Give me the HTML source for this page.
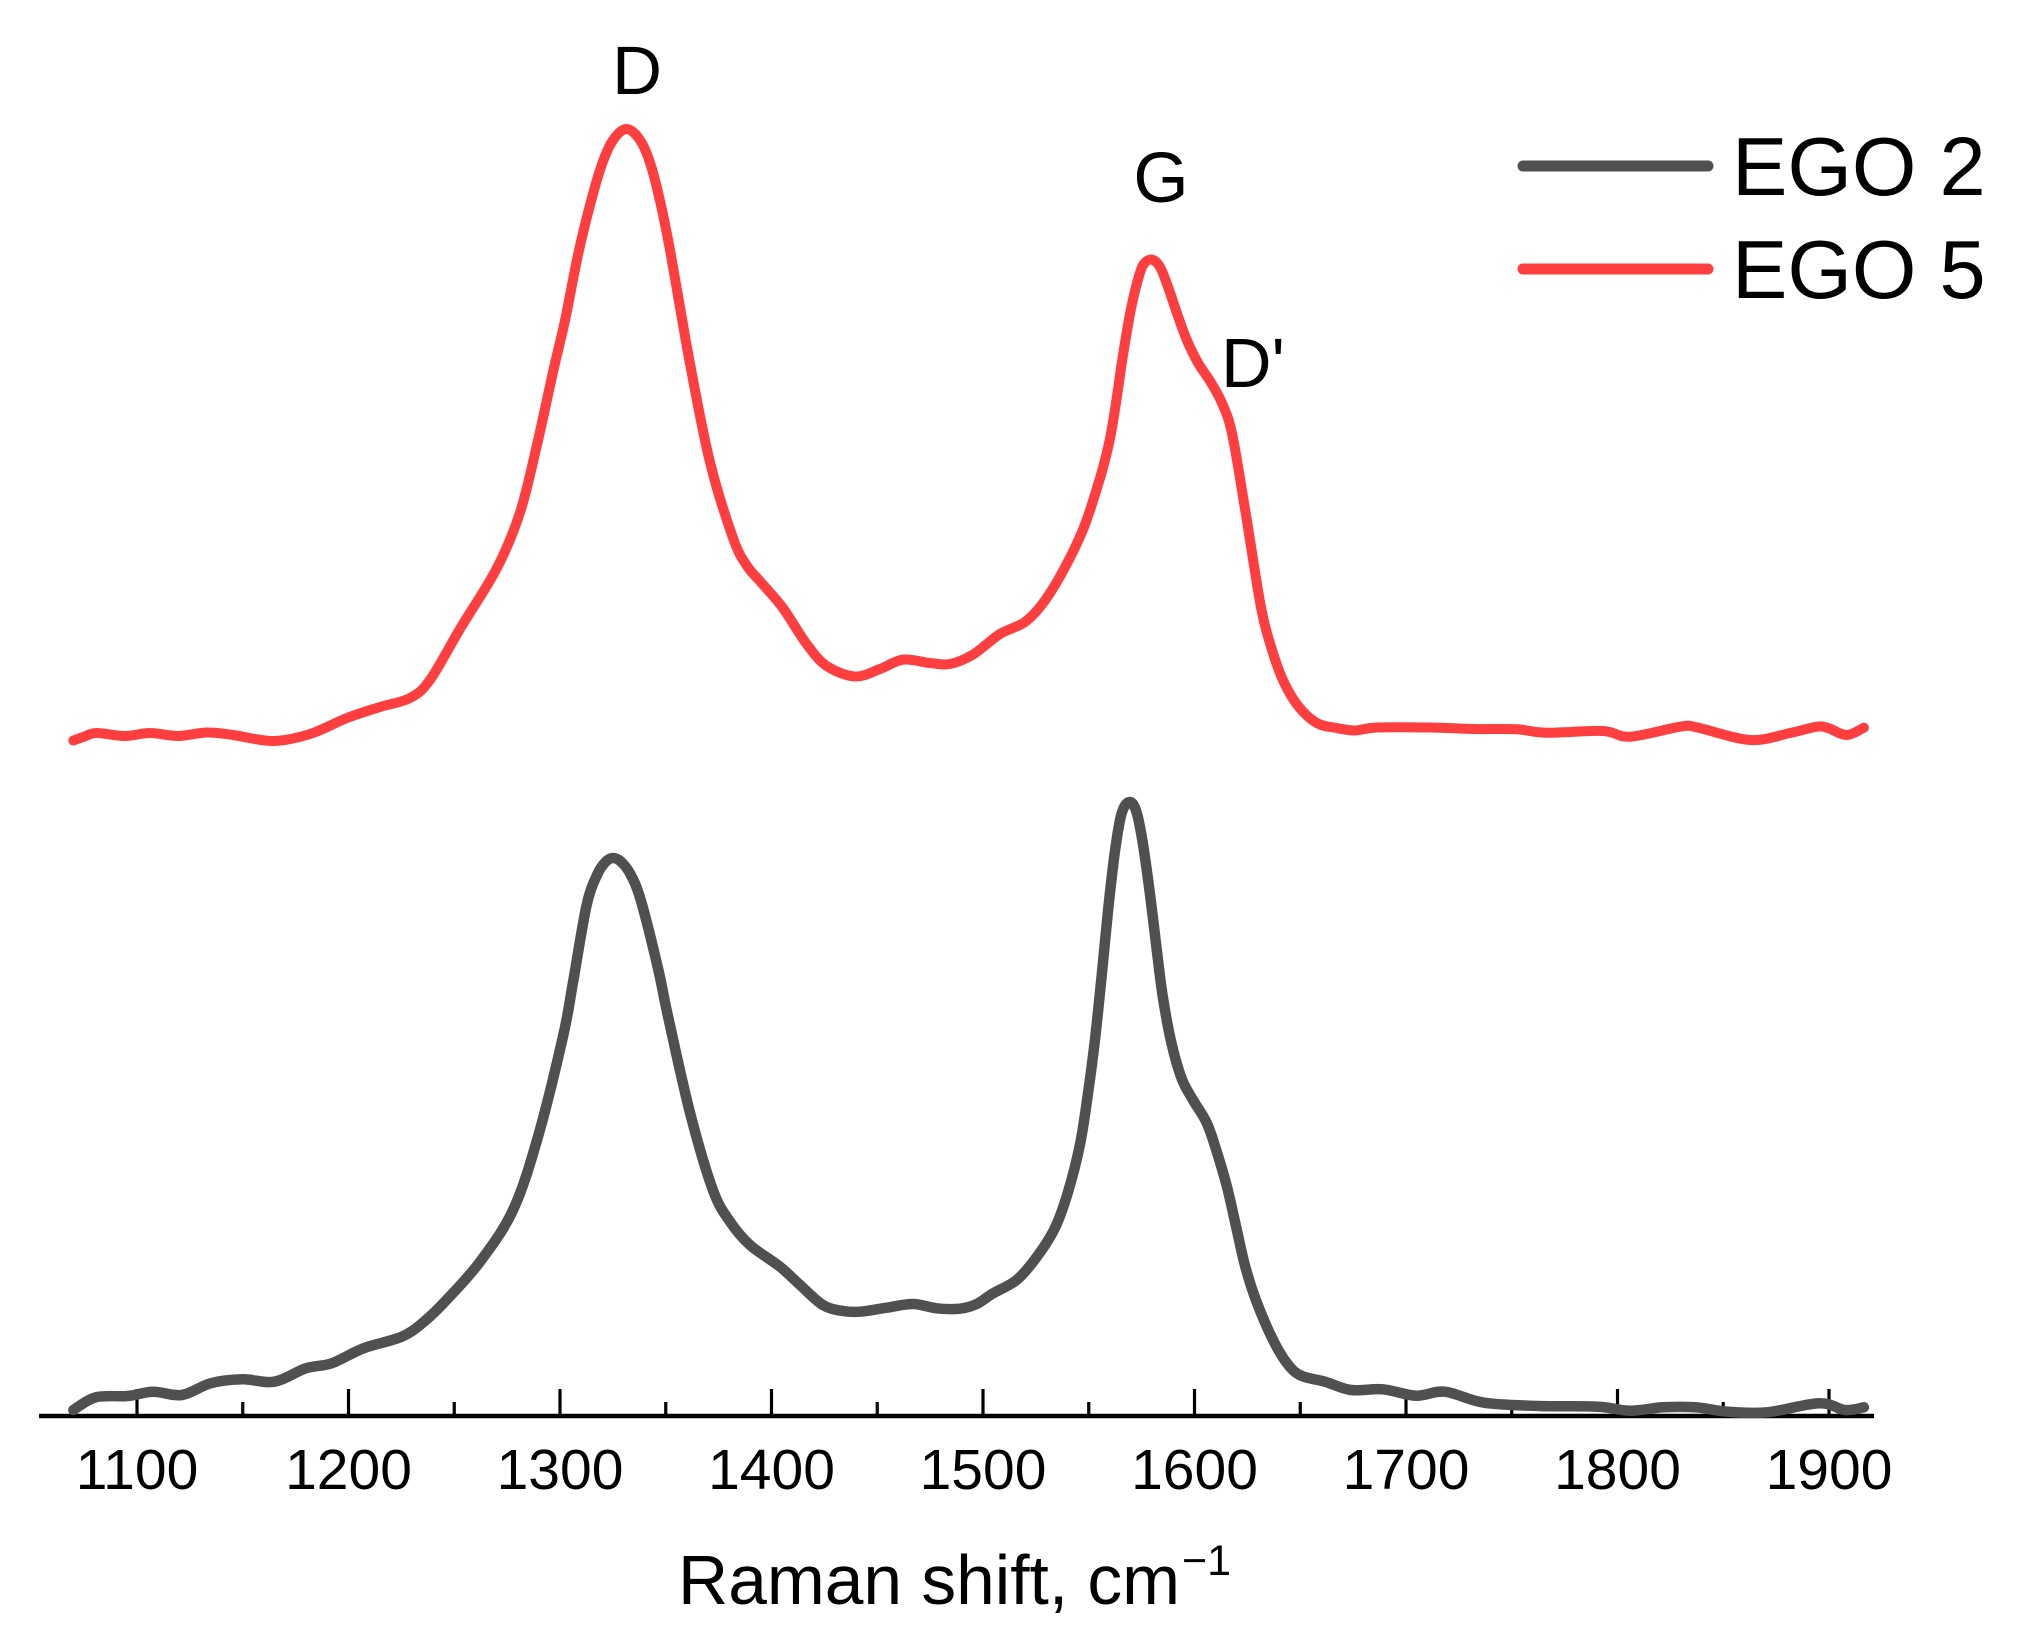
<!DOCTYPE html>
<html lang="en">
<head>
<meta charset="utf-8">
<title>Raman spectra of EGO 2 and EGO 5</title>
<style>
html,body{margin:0;padding:0;background:#fff;}
svg{display:block;}
text{font-family:"Liberation Sans",Arial,sans-serif;fill:#000;}
</style>
</head>
<body>
<svg id="chart" xmlns="http://www.w3.org/2000/svg" width="2019" height="1638" viewBox="0 0 2019 1638">
  <rect x="0" y="0" width="2019" height="1638" fill="#ffffff"/>
  <g id="axis"></g>
  <g id="series"></g>
  <text x="637" y="94" font-size="69" text-anchor="middle">D</text>
  <text x="1161" y="202" font-size="71" text-anchor="middle">G</text>
  <text x="1221" y="387" font-size="70">D'</text>
  <text x="678" y="1604" font-size="69.5">Raman shift, cm</text>
  <text x="1182" y="1575" font-size="43">−1</text>
  <g>
    <line x1="1523" y1="166" x2="1708" y2="166" stroke="#505050" stroke-width="11" stroke-linecap="round"/>
    <text x="1732" y="195" font-size="83">EGO 2</text>
    <line x1="1523" y1="269" x2="1708" y2="269" stroke="#FF3F3F" stroke-width="11" stroke-linecap="round"/>
    <text x="1732" y="298" font-size="83">EGO 5</text>
  </g>
</svg>
<script>
const majorTicks = [1100,1200,1300,1400,1500,1600,1700,1800,1900];
const minorTicks = [1150,1250,1350,1450,1550,1650,1750,1850];

const ego5Shift = [1069.9,1074.6,1080.9,1094.3,1106.1,1119.5,1133,1145.4,1164.3,1181.8,1199.3,1214.9,1229.1,1238.5,1252.7,1270.2,1281.1,1289.1,1296.7,1302.4,1308.5,1314.2,1319.7,1325.1,1331.5,1337.8,1342.6,1347.3,1352,1361.5,1370.9,1381.8,1388.3,1396,1405.4,1416.6,1426.1,1439.5,1451.3,1462.2,1474.9,1484.4,1495.3,1508,1520.7,1531.7,1544.3,1552,1560,1566.2,1569.5,1572.7,1575.7,1579.8,1583.7,1587.5,1591.6,1596.3,1601.7,1608.1,1613.5,1618,1624.5,1631.5,1636.5,1642,1649,1657.8,1667.2,1675.9,1686.1,1711.3,1731.7,1752.3,1766.5,1793.1,1805.9,1829.6,1837.4,1862.6,1881.6,1894.2,1899.5,1908.4,1916.5];
const ego5Intensity = [675.5,679,683,680,683,680,683.5,681,675,682,698,709,718,736,787,848,903.5,971,1044,1096,1161,1211,1251,1276,1287,1276,1253,1215,1166,1052,954,878,850.5,831.4,808,772,750,739.5,747,756.4,753,752,761.5,782,795.4,823,872,915,977,1061,1102,1132,1151,1156.4,1149,1129,1103.4,1076.3,1053,1032.4,1010.5,980,899,808,767.2,735,710,693,688,685.5,688.5,688.5,687,686.7,683.3,685,679.3,689.3,688.7,676,683,689.3,688,681,688.3];

const ego2Shift = [1069.9,1080.5,1095.6,1107.6,1121.2,1134.8,1149.8,1164.9,1179.9,1192,1207.1,1225.2,1235.7,1246.3,1262.2,1277.8,1289.6,1301.4,1306.1,1312.5,1317.5,1321.5,1325.1,1329,1333.5,1338.3,1346.3,1351.1,1361.5,1372.3,1380.4,1389.8,1404,1413.5,1424.3,1433.8,1441.8,1454.5,1466.9,1478.1,1489.1,1497,1504.7,1515.9,1525.4,1534,1540.2,1545.9,1549.6,1552.9,1556.1,1559.1,1562.4,1565.6,1569.5,1572.7,1575.7,1579,1582.1,1585.1,1589.2,1594,1599.3,1605.8,1610.5,1615.5,1619.8,1624,1629.2,1637,1644,1650.5,1661.7,1674,1689.1,1704.7,1718.4,1736.9,1762.9,1790.8,1806,1821.6,1836.7,1852.3,1870.7,1895.3,1907.6,1916.5];
const ego2Intensity = [6,18.7,20,24.3,21,32.7,36.7,34.3,47.7,52.7,67.7,79.3,94.3,116,154.3,206,279.3,379.3,433,510,541,554,558,554,541,515,448,399.3,303,226,194.3,171,149.3,131,111,105,104.3,108.3,112,107.7,107.3,112,122.6,136,159,188,224,272,322,375.5,440,505,565,603,614,603,571,521,467,418,372,337.1,316,293,264.4,228,188,149.4,115,76.6,52,40.2,34.3,26,26.7,20.3,24.3,13.3,10,9.3,5.3,8.7,8.7,4.3,3.7,12.7,6,8.7];

const SVG_NS = 'http://www.w3.org/2000/svg';
function xScale(v){ return 137 + (v - 1100) * 2.115; }
function yScale(v){ return 1416 - v; }

function smoothPath(xs, ys){
  const pts = xs.map(function(x, i){ return [xScale(x), yScale(ys[i])]; });
  let d = 'M' + pts[0][0].toFixed(2) + ' ' + pts[0][1].toFixed(2);
  for (let i = 0; i < pts.length - 1; i++){
    const p0 = pts[Math.max(0, i - 1)], p1 = pts[i], p2 = pts[i + 1], p3 = pts[Math.min(pts.length - 1, i + 2)];
    const c1x = p1[0] + (p2[0] - p0[0]) / 6, c1y = p1[1] + (p2[1] - p0[1]) / 6;
    const c2x = p2[0] - (p3[0] - p1[0]) / 6, c2y = p2[1] - (p3[1] - p1[1]) / 6;
    d += 'C' + c1x.toFixed(2) + ' ' + c1y.toFixed(2) + ' ' + c2x.toFixed(2) + ' ' + c2y.toFixed(2) + ' ' + p2[0].toFixed(2) + ' ' + p2[1].toFixed(2);
  }
  return d;
}

const axisGroup = document.getElementById('axis');
const seriesGroup = document.getElementById('series');

const axisLine = document.createElementNS(SVG_NS, 'line');


axisLine.setAttribute('x1', 39);
axisLine.setAttribute('x2', 1874);
axisLine.setAttribute('y1', 1416);
axisLine.setAttribute('y2', 1416);
axisLine.setAttribute('stroke', '#000');
axisLine.setAttribute('stroke-width', 4.5);
axisGroup.appendChild(axisLine);

majorTicks.forEach(function(t){
  const tick = document.createElementNS(SVG_NS, 'line');
  
  
  tick.setAttribute('x1', xScale(t));
  tick.setAttribute('x2', xScale(t));
  tick.setAttribute('y1', 1389);
  tick.setAttribute('y2', 1416);
  tick.setAttribute('stroke', '#000');
  tick.setAttribute('stroke-width', 3.2);
  axisGroup.appendChild(tick);
  const label = document.createElementNS(SVG_NS, 'text');
  
  
  label.setAttribute('x', xScale(t));
  label.setAttribute('y', 1489);
  label.setAttribute('font-size', 57);
  label.setAttribute('text-anchor', 'middle');
  label.textContent = t;
  axisGroup.appendChild(label);
});

minorTicks.forEach(function(t){
  const tick = document.createElementNS(SVG_NS, 'line');
  
  
  tick.setAttribute('x1', xScale(t));
  tick.setAttribute('x2', xScale(t));
  tick.setAttribute('y1', 1402);
  tick.setAttribute('y2', 1416);
  tick.setAttribute('stroke', '#000');
  tick.setAttribute('stroke-width', 3.2);
  axisGroup.appendChild(tick);
});

const ego2Line = document.createElementNS(SVG_NS, 'path');


ego2Line.setAttribute('d', smoothPath(ego2Shift, ego2Intensity));
ego2Line.setAttribute('fill', 'none');
ego2Line.setAttribute('stroke', '#505050');
ego2Line.setAttribute('stroke-width', 10.5);
ego2Line.setAttribute('stroke-linecap', 'round');
ego2Line.setAttribute('stroke-linejoin', 'round');
seriesGroup.appendChild(ego2Line);

const ego5Line = document.createElementNS(SVG_NS, 'path');


ego5Line.setAttribute('d', smoothPath(ego5Shift, ego5Intensity));
ego5Line.setAttribute('fill', 'none');
ego5Line.setAttribute('stroke', '#FF3F3F');
ego5Line.setAttribute('stroke-width', 10);
ego5Line.setAttribute('stroke-linecap', 'round');
ego5Line.setAttribute('stroke-linejoin', 'round');
seriesGroup.appendChild(ego5Line);
</script>
</body>
</html>
